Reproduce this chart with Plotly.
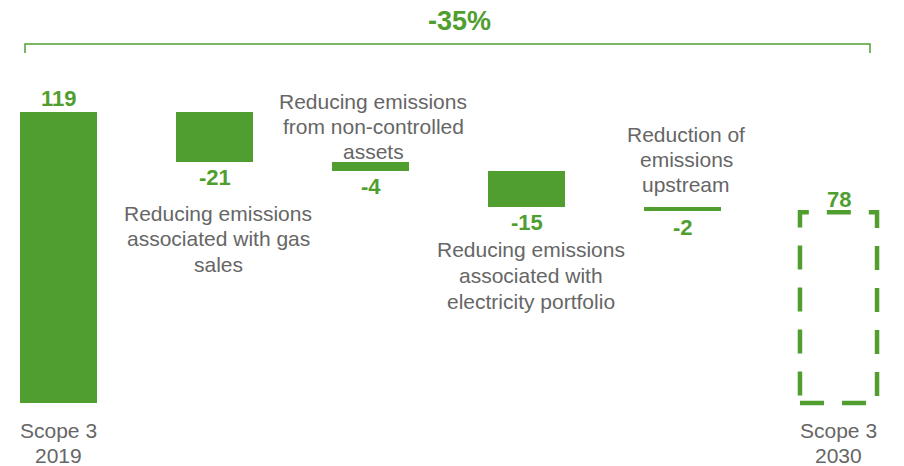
import plotly.graph_objects as go

# ---- data ----
steps = ["Scope 3 2019", "Gas sales", "Non-controlled assets", "Electricity portfolio", "Upstream", "Scope 3 2030"]
start_value = 119
changes = [-20.4, -3.7, -14.6, -1.7]
end_value = 78
value_labels = ["119", "-21", "-4", "-15", "-2", "78"]
descriptions = [
    ["Reducing emissions", "associated with gas", "sales"],
    ["Reducing emissions", "from non-controlled", "assets"],
    ["Reducing emissions", "associated with", "electricity portfolio"],
    ["Reduction of", "emissions", "upstream"],
]
axis_labels = [["Scope 3", "2019"], ["Scope 3", "2030"]]
total_change_label = "-35%"

GREEN = "#509E2F"
GRAY = "#666666"
FONT = "Liberation Sans, Arial, sans-serif"
W, H = 904, 466
BAR_W = 0.494
LINE = 25.5  # px between text lines

# cumulative bases
bases = [0]
heights = [start_value]
level = start_value
for c in changes:
    bases.append(level + c)
    heights.append(-c)
    level += c

xs = list(range(len(steps)))

fig = go.Figure()
fig.add_trace(go.Bar(
    x=xs[:5], y=heights, base=bases, width=BAR_W,
    marker=dict(color=GREEN, line=dict(width=0)),
    hoverinfo="skip", showlegend=False,
))

# dashed outline for 2030 target
fig.add_shape(type="rect", xref="x", yref="y",
              x0=5 - BAR_W / 2, x1=5 + BAR_W / 2, y0=0, y1=end_value,
              line=dict(color=GREEN, width=4.5, dash="24px,18px"),
              fillcolor="rgba(0,0,0,0)")

annotations = []
# value labels tied to bar ends
label_anchor = [
    (start_value, 14),
    (bases[1], -16),
    (bases[2], -16),
    (bases[3], -16),
    (bases[4], -17),
    (end_value, 13),
]
for i, (yv, shift) in enumerate(label_anchor):
    annotations.append(dict(
        x=i, y=yv, xref="x", yref="y", text="<b>%s</b>" % value_labels[i],
        showarrow=False, yanchor="middle", xanchor="center", yshift=shift,
        font=dict(family=FONT, size=22, color=GREEN),
    ))

# description texts (pixel positions of the first line centre)
desc_pos = [(218, 213), (373, 101), (531, 250), (686, 134)]
for lines, (px, py) in zip(descriptions, desc_pos):
    for k, ln in enumerate(lines):
        annotations.append(dict(
            x=px / W, y=1 - (py + k * LINE) / H, xref="paper", yref="paper", text=ln,
            showarrow=False, xanchor="center", yanchor="middle", align="center",
            font=dict(family=FONT, size=21, color=GRAY),
        ))

# axis labels
for i, lines in zip([0, 5], axis_labels):
    for k, ln in enumerate(lines):
        annotations.append(dict(
            x=i, y=1 - (430 + k * LINE) / H, xref="x", yref="paper", text=ln,
            showarrow=False, xanchor="center", yanchor="middle", align="center",
            font=dict(family=FONT, size=21, color=GRAY),
        ))

# total change label
annotations.append(dict(
    x=459 / W, y=1 - 21 / H, xref="paper", yref="paper",
    text="<b>%s</b>" % total_change_label, showarrow=False,
    xanchor="center", yanchor="middle",
    font=dict(family=FONT, size=27, color=GREEN),
))

# bracket
bx0, bx1, by, btick = 25 / W, 870 / W, 1 - 44 / H, 1 - 53 / H
fig.add_shape(type="path", xref="paper", yref="paper",
              path=f"M {bx0} {btick} L {bx0} {by} L {bx1} {by} L {bx1} {btick}",
              line=dict(color=GREEN, width=1.5))

px_per_unit = (403 - 112) / start_value
fig.update_layout(
    width=W, height=H,
    margin=dict(l=0, r=0, t=0, b=0),
    paper_bgcolor="white", plot_bgcolor="white",
    xaxis=dict(range=[-58.5 / 156, (W - 58.5) / 156], visible=False, fixedrange=True),
    yaxis=dict(range=[-(H - 403) / px_per_unit, 403 / px_per_unit], visible=False, fixedrange=True),
    annotations=annotations,
    bargap=0,
)

fig.write_html("out.html", config={"displayModeBar": False})
